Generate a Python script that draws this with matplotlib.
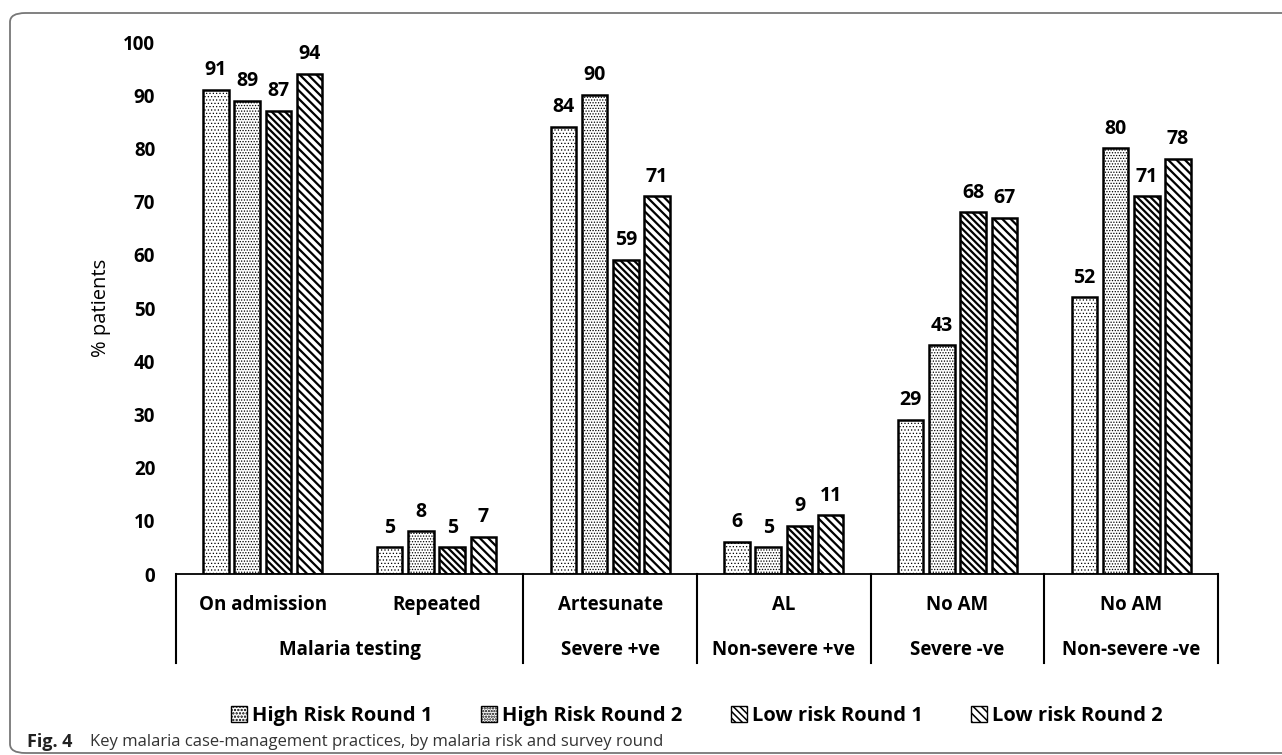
import numpy as np
import matplotlib
matplotlib.use("Agg")
from matplotlib import pyplot as plt
from matplotlib.patches import FancyBboxPatch, Patch

plt.rcParams['font.family'] = ['Open Sans', 'DejaVu Sans']

sub_labels = ['On admission', 'Repeated', 'Artesunate', 'AL', 'No AM', 'No AM']
group_labels = ['Malaria testing', 'Severe +ve', 'Non-severe +ve', 'Severe -ve', 'Non-severe -ve']
group_spans = [(0, 1), (2, 2), (3, 3), (4, 4), (5, 5)]
series_names = ['High Risk Round 1', 'High Risk Round 2', 'Low risk Round 1', 'Low risk Round 2']
high_r1 = [91, 5, 84, 6, 29, 52]
high_r2 = [89, 8, 90, 5, 43, 80]
low_r1 = [87, 5, 59, 9, 68, 71]
low_r2 = [94, 7, 71, 11, 67, 78]

series = [high_r1, high_r2, low_r1, low_r2]
hatches = ['.....', '......', '\\' * 5, '\\' * 4]
hatch_lw = [0.5, 0.6, 1.6, 1.6]

fig = plt.figure(figsize=(12.82, 7.55), dpi=100)

# rounded frame around the figure panel
frame = FancyBboxPatch((10 / 1282, 2 / 755), 1.05, 740 / 755,
                       boxstyle="round,pad=0,rounding_size=0.012",
                       transform=fig.transFigure, fill=False,
                       edgecolor='#777777', linewidth=1.3)
fig.add_artist(frame)

ax = fig.add_axes([176 / 1282, 181 / 755, 1042 / 1282, 532 / 755])
x = np.arange(len(sub_labels))
step = 0.18
width = 0.147

for k, vals in enumerate(series):
    plt.rcParams['hatch.linewidth'] = hatch_lw[k]
    pos = x + (k - 1.5) * step
    bars = ax.bar(pos, vals, width, color='white', edgecolor='black',
                  linewidth=1.8, hatch=hatches[k], label=series_names[k])
    for b, v in zip(bars, vals):
        ax.annotate(str(v), (b.get_x() + b.get_width() / 2, v),
                    xytext=(0, 7), textcoords='offset points',
                    ha='center', va='bottom', fontsize=14, fontweight='bold')

ax.set_xlim(-0.5, 5.5)
ax.set_ylim(0, 100)
ax.set_yticks(range(0, 101, 10))
ax.set_yticklabels([str(t) for t in range(0, 101, 10)], fontsize=13.5, fontweight='bold')
ax.tick_params(axis='y', length=0, pad=15)
ax.set_xticks([])
for s in ['left', 'right', 'top']:
    ax.spines[s].set_visible(False)
ax.spines['bottom'].set_linewidth(1.3)
ax.set_ylabel('% patients', fontsize=14.5, labelpad=9)

# category labels and separators below the axis
for i, lab in enumerate(sub_labels):
    ax.text(i, -5.8, lab, ha='center', va='center', fontsize=13.5, fontweight='bold',
            clip_on=False)
for lab, (a, b) in zip(group_labels, group_spans):
    ax.text((a + b) / 2, -14.2, lab, ha='center', va='center', fontsize=13.5,
            fontweight='bold', clip_on=False)
for sep in [-0.5, 1.5, 2.5, 3.5, 4.5, 5.5]:
    ax.plot([sep, sep], [0, -16.8], color='black', linewidth=1.5, clip_on=False)

handles = []
for k in range(4):
    plt.rcParams['hatch.linewidth'] = hatch_lw[k] * 0.7
    handles.append(Patch(facecolor='white', edgecolor='black', hatch=hatches[k],
                         linewidth=1.0, label=series_names[k]))
fig.legend(handles=handles, loc='center', bbox_to_anchor=(697 / 1282, 39 / 755),
           ncol=4, frameon=False, handlelength=0.8, handleheight=0.8,
           handletextpad=0.25, columnspacing=2.4,
           prop={'family': 'Open Sans', 'weight': 'bold', 'size': 14.5})

fig.text(27 / 1282, 13 / 755, 'Fig. 4', fontsize=13, fontweight='bold',
         ha='left', va='center', family='Open Sans', color='#222222')
fig.text(90 / 1282, 13 / 755,
         'Key malaria case-management practices, by malaria risk and survey round',
         fontsize=12, ha='left', va='center', family='Open Sans', color='#333333')

fig.savefig('out.png', dpi=100)
